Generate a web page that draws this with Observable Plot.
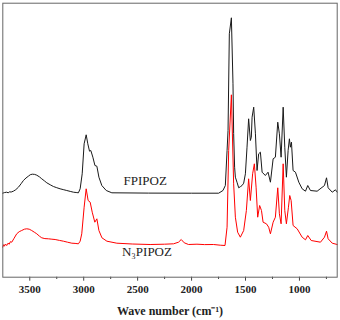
<!DOCTYPE html>
<html><head><meta charset="utf-8">
<script src="https://cdn.jsdelivr.net/npm/d3@7"></script>
<script src="https://cdn.jsdelivr.net/npm/@observablehq/plot@0.6"></script>
<style>html,body{margin:0;padding:0;background:#fff} svg{display:block}</style>
</head><body><div id="chart"></div>
<script>
// FPIPOZ (black) — wavenumber (cm-1) and absorbance (arbitrary units incl. offset)
const fpWn  = [3751,3735,3714,3700,3690,3672,3652,3630,3605,3580,3559,3535,3513,3495,3476,3455,3435,3410,3389,3365,3342,3310,3281,3250,3219,3190,3157,3125,3095,3070,3049,3033,3014,2996,2977,2962,2946,2934,2915,2896,2878,2859,2832,2791,2739,2400,2000,1749,1709,1687,1671,1662,1650,1631,1616,1610,1601,1594,1579,1563,1548,1532,1517,1501,1486,1471,1455,1446,1439,1424,1408,1393,1378,1362,1346,1316,1291,1269,1244,1223,1201,1186,1170,1151,1136,1121,1105,1093,1084,1074,1059,1037,1006,975,944,923,898,836,768,749,734,696,666,650];
const fpAbs = [84.0,84.6,85.0,84.4,85.3,85.2,86.0,87.5,90.0,93.5,96.7,99.2,101.0,102.5,103.0,102.8,102.0,100.3,98.4,96.4,94.4,92.4,90.7,89.5,88.4,87.6,86.7,85.8,85.0,84.7,84.4,88.4,103.4,133.4,142.4,133.4,126.0,126.7,120.0,111.7,111.0,100.0,91.7,86.7,84.4,84.1,84.0,84.0,86.7,91.7,126.7,146.7,243.4,259.4,193.4,143.7,110.0,100.0,95.0,89.4,90.5,91.7,94.0,103.4,130.0,158.4,136.7,140.0,160.0,170.0,143.4,106.7,123.4,125.0,105.0,101.7,105.0,95.0,118.4,120.0,155.0,143.4,120.0,170.0,130.0,100.0,126.7,138.4,130.0,135.0,106.7,105.0,95.0,88.4,86.0,91.7,86.7,86.0,91.7,99.4,89.4,85.0,87.4,85.0];
// N3PIPOZ (red)
const n3Wn  = [3751,3742,3735,3726,3714,3702,3690,3680,3667,3645,3621,3598,3575,3550,3528,3505,3482,3458,3435,3410,3389,3360,3327,3295,3265,3225,3188,3150,3110,3080,3049,3033,3018,2996,2977,2959,2940,2921,2897,2878,2859,2831,2785,2693,2550,2384,2250,2167,2121,2096,2068,2028,1950,1880,1796,1734,1690,1671,1656,1631,1610,1594,1573,1548,1517,1492,1471,1455,1434,1418,1402,1387,1369,1352,1337,1306,1285,1269,1244,1223,1201,1186,1170,1151,1136,1121,1102,1090,1077,1059,1021,975,944,923,891,805,768,749,734,696,650];
const n3Abs = [30.0,32.5,31.0,33.2,31.7,34.0,33.0,35.5,35.0,39.0,43.4,45.5,46.7,48.0,48.4,48.0,46.7,45.0,43.4,41.0,39.4,38.6,38.4,38.0,37.7,36.8,36.0,35.0,34.0,33.8,33.4,36.0,43.4,70.0,88.4,76.7,75.0,65.0,55.0,58.4,46.7,39.4,36.0,34.0,33.2,32.7,33.0,33.4,35.0,37.7,34.4,32.7,33.0,32.6,32.7,32.0,31.7,50.0,126.7,182.4,93.4,60.0,45.0,40.0,46.7,66.7,98.4,76.7,103.4,113.4,90.0,60.0,71.7,66.7,55.0,53.4,50.0,43.4,55.0,60.0,89.4,63.4,53.4,113.4,66.7,53.4,70.0,81.7,76.7,51.7,48.4,40.0,37.4,41.7,36.7,35.0,40.0,46.0,38.4,34.0,32.7];

const majorTicks = [3500, 3000, 2500, 2000, 1500, 1000];
const minorTicks = [3250, 2750, 2250, 1750, 1250, 750];
const traceNames = ["FPIPOZ", "N₃PIPOZ"];
const traceLabelWn = [2430, 2414];
const traceLabelAbs = [92.4, 21.2];
const xTitle = "Wave number (cm⁻¹)";

const fp = fpWn.map((w, i) => ({wn: w, a: fpAbs[i]}));
const n3 = n3Wn.map((w, i) => ({wn: w, a: n3Abs[i]}));
const labels = traceNames.map((t, i) => ({t, wn: traceLabelWn[i], a: traceLabelAbs[i]}));

const chart = Plot.plot({
  width: 340, height: 320,
  marginLeft: 2.3, marginRight: 3.3, marginTop: 2.7, marginBottom: 43.3,
  x: {domain: [3750, 650]},
  y: {domain: [0, 274], axis: null},
  style: {fontFamily: "'Liberation Serif', serif", background: "#fff", color: "#222"},
  marks: [
    Plot.axisX(majorTicks, {tickSize: 4, tickPadding: 4, fontSize: 11, fontWeight: "bold", tickFormat: d => String(d), label: null, stroke: "#444"}),
    Plot.axisX(minorTicks, {tickSize: 2.3, tickFormat: () => "", label: null, stroke: "#444"}),
    Plot.line(fp, {x: "wn", y: "a", stroke: "#1a1a1a", strokeWidth: 1}),
    Plot.line(n3, {x: "wn", y: "a", stroke: "#ff0000", strokeWidth: 1}),
    Plot.text(labels, {x: "wn", y: "a", text: "t", fontSize: 13, textAnchor: "middle", lineAnchor: "bottom", fill: "#222"}),
    Plot.text([xTitle], {frameAnchor: "bottom", text: d => d, dy: 37.6, lineAnchor: "bottom", fontSize: 12, fontWeight: "bold", fill: "#222"}),
    Plot.frame({stroke: "#666"})
  ]
});
document.getElementById("chart").appendChild(chart);
</script>
</body></html>
